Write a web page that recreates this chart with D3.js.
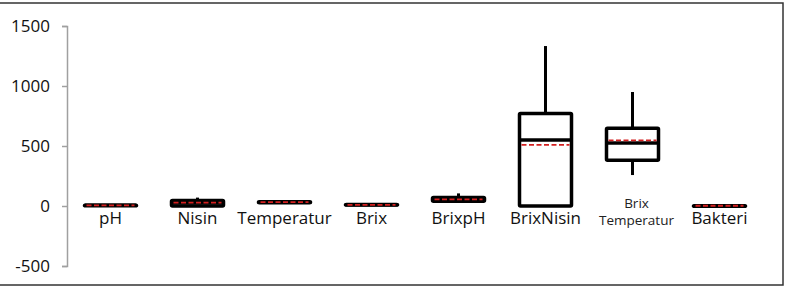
<!DOCTYPE html>
<html>
<head>
<meta charset="utf-8">
<script src="https://cdn.jsdelivr.net/npm/d3@7"></script>
<style>
body { margin: 0; background: #fff; }
</style>
</head>
<body>
<div id="chart"></div>
<script>
// categories and box statistics
var categories = ["pH", "Nisin", "Temperatur", "Brix", "BrixpH", "BrixNisin", "Brix\nTemperatur", "Bakteri"];
var minVals    = [4,  0,  25, 5,  35,  0,    258, 0];
var q1Vals     = [5,  0,  28, 8,  40,  0,    381, 1];
var medVals    = [6,  25, 32, 10, 55,  550,  525, 2];
var q3Vals     = [7,  45, 35, 13, 70,  770,  647, 3];
var maxVals    = [8,  70, 50, 15, 105, 1333, 950, 4];
var meanVals   = [6,  28, 32, 10, 55,  510,  547, 2];
var yTicks     = [-500, 0, 500, 1000, 1500];

var width = 785, height = 288;

var svg = d3.select("#chart").append("svg")
	.attr("width", width)
	.attr("height", height);

// outer frame
svg.append("rect")
	.attr("x", -2).attr("y", 3)
	.attr("width", 785).attr("height", 282)
	.attr("fill", "none")
	.attr("stroke", "#333")
	.attr("stroke-width", 1.5);

var xScale = d3.scaleBand()
	.domain(categories)
	.range([67, 763])
	.padding(0);

var yScale = d3.scaleLinear()
	.domain([-500, 1500])
	.range([266, 26]);

// y axis (plain hyphen for negatives, like the original)
var yAxis = d3.axisLeft(yScale)
	.tickValues(yTicks)
	.tickSize(5)
	.tickPadding(12)
	.tickFormat(function(d) { return String(d); });

var gy = svg.append("g")
	.attr("transform", "translate(67,0)")
	.call(yAxis);
gy.select(".domain").attr("stroke", "#a0a0a0").attr("stroke-width", 1.5);
gy.selectAll(".tick line").attr("stroke", "#a0a0a0").attr("stroke-width", 1.5);
gy.selectAll(".tick text")
	.attr("fill", "#111")
	.style("font-family", "'Open Sans', sans-serif")
	.style("font-size", "17px");

// data rows for the boxes
var rows = categories.map(function(c, i) {
	return {cat: c, min: minVals[i], q1: q1Vals[i], med: medVals[i],
		q3: q3Vals[i], max: maxVals[i], mean: meanVals[i]};
});

var boxW = 52;

var g = svg.selectAll("g.box")
	.data(rows)
	.enter().append("g")
	.attr("class", "box")
	.attr("transform", function(d) { return "translate(" + (xScale(d.cat) + xScale.bandwidth() / 2) + ",0)"; });

// upper whisker
g.append("line")
	.attr("x1", 0).attr("x2", 0)
	.attr("y1", function(d) { return yScale(d.q3); })
	.attr("y2", function(d) { return yScale(d.max); })
	.attr("stroke", "#000").attr("stroke-width", 3);

// lower whisker
g.append("line")
	.attr("x1", 0).attr("x2", 0)
	.attr("y1", function(d) { return yScale(d.q1); })
	.attr("y2", function(d) { return yScale(d.min); })
	.attr("stroke", "#000").attr("stroke-width", 3);

// box
g.append("rect")
	.attr("x", -boxW / 2)
	.attr("width", boxW)
	.attr("y", function(d) { return yScale(d.q3); })
	.attr("height", function(d) { return Math.max(0.5, yScale(d.q1) - yScale(d.q3)); })
	.attr("fill", "#fff")
	.attr("stroke", "#000")
	.attr("stroke-width", 3.5)
	.attr("rx", 1);

// median
g.append("line")
	.attr("x1", -boxW / 2).attr("x2", boxW / 2)
	.attr("y1", function(d) { return yScale(d.med); })
	.attr("y2", function(d) { return yScale(d.med); })
	.attr("stroke", "#000").attr("stroke-width", 3.5);

// mean (red dashed)
g.append("line")
	.attr("x1", -boxW / 2 + 2).attr("x2", boxW / 2 - 2)
	.attr("y1", function(d) { return yScale(d.mean); })
	.attr("y2", function(d) { return yScale(d.mean); })
	.attr("stroke", "#d42020").attr("stroke-width", 1.8)
	.attr("stroke-dasharray", "5,2.5");

// category labels
rows.forEach(function(d) {
	var cx = xScale(d.cat) + xScale.bandwidth() / 2;
	var parts = d.cat.split("\n");
	if (parts.length > 1) {
		svg.append("text")
			.attr("x", cx + 4).attr("y", 208)
			.attr("text-anchor", "middle")
			.style("font-family", "'Open Sans', sans-serif")
			.style("font-size", "13.5px")
			.attr("fill", "#222")
			.text(parts[0]);
		svg.append("text")
			.attr("x", cx + 4).attr("y", 225)
			.attr("text-anchor", "middle")
			.style("font-family", "'Open Sans', sans-serif")
			.style("font-size", "13.5px")
			.attr("fill", "#222")
			.text(parts[1]);
	} else {
		svg.append("text")
			.attr("x", cx).attr("y", 224)
			.attr("text-anchor", "middle")
			.style("font-family", "'Open Sans', sans-serif")
			.style("font-size", "17px")
			.attr("fill", "#111")
			.text(d.cat);
	}
});
</script>
</body>
</html>
